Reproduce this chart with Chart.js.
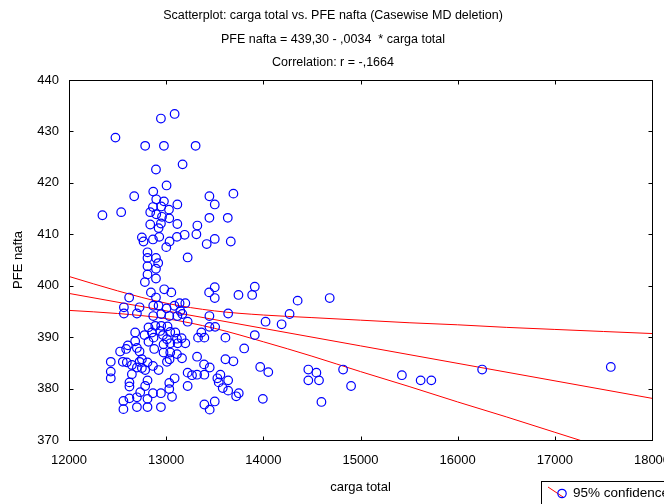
<!DOCTYPE html>
<html>
<head>
<meta charset="utf-8">
<script src="https://cdn.jsdelivr.net/npm/chart.js@4.4.1/dist/chart.umd.min.js"></script>
<style>
  html, body { margin: 0; padding: 0; background: #fff; overflow: hidden; }
  #wrap { width: 664px; height: 504px; overflow: hidden; }
</style>
</head>
<body>
<div id="wrap"><canvas id="myChart" width="760" height="504"></canvas></div>
<script>
// title lines
var titleLines = [
    'Scatterplot: carga total vs. PFE nafta (Casewise MD deletion)',
    'PFE nafta = 439,30 - ,0034  * carga total',
    'Correlation: r = -,1664'
];

// one entry per case: carga total (x) and PFE nafta (y)
var cargaTotal = [13087, 12946, 12478, 12784, 12977, 13303, 13169, 12895, 13004, 12867,
    12671, 12898, 12977, 13115, 12864, 12949, 13029, 12344, 12537, 12836,
    12898, 12957, 13032, 12836, 12946, 13115, 12922, 13321, 12750, 12767,
    12864, 12929, 13035, 13111, 13190, 13311, 13001, 12808, 12808, 12895,
    12918, 13221, 12808, 12895, 12808, 12895, 12781, 12843, 12980, 13053,
    12895, 12619, 12565, 12565, 12726, 12699, 12867, 12922, 13004, 13084,
    13138, 13197, 13146, 12867, 12949, 13032, 13115, 13166, 13221, 13445,
    13692, 13500, 13445, 13634, 13500, 13417, 13665, 13500, 13442, 13500,
    13744, 13912, 13885, 14353, 13445, 13638, 14270, 14023, 14188, 13445,
    13504, 13362, 13328, 13393, 13610, 13912, 13803, 13318, 13390, 13448,
    13610, 13692, 13968, 14051, 13318, 13393, 13558, 13527, 13638, 13541,
    13582, 13638, 13747, 13720, 13995, 13500, 13393, 13448, 12818, 12888,
    12949, 13014, 12681, 12777, 12853, 12939, 12967, 13042, 13094, 13159,
    13111, 13008, 12870, 12681, 12606, 12588, 12526, 12699, 12726, 12818,
    12877, 12973, 13042, 13118, 13197, 13111, 13042, 12973, 13163, 12430,
    12554, 12595, 12647, 12726, 12750, 12808, 12864, 12922, 12784, 12699,
    12750, 13008, 13035, 12430, 12430, 12647, 12622, 12622, 12808, 12784,
    12733, 12699, 12864, 12946, 13032, 13087, 13032, 13060, 13221, 13266,
    13221, 12560, 12622, 12560, 12699, 12808, 12808, 12946, 14683, 14463,
    14546, 14463, 14573, 14821, 14903, 14598, 15426, 15619, 15729, 16252,
    17576];
var pfeNafta = [433.4, 432.5, 428.8, 427.2, 427.2, 427.2, 423.6, 422.6, 419.5, 418.3,
    417.4, 416.8, 416.4, 415.8, 415.3, 415.4, 414.8, 413.7, 414.3, 414.3,
    413.9, 413.4, 413.1, 411.9, 412.1, 412.0, 411.2, 411.7, 409.4, 408.6,
    409.0, 409.5, 408.6, 409.5, 409.9, 410.0, 407.5, 406.5, 405.4, 405.4,
    404.4, 405.5, 403.8, 403.3, 402.2, 401.4, 400.7, 398.7, 399.3, 398.7,
    397.7, 397.7, 395.8, 394.6, 395.8, 394.6, 396.1, 396.1, 395.6, 396.1,
    396.6, 396.6, 395.1, 394.1, 394.5, 394.1, 394.1, 394.5, 393.0, 417.4,
    417.9, 415.8, 413.2, 413.2, 409.1, 408.1, 408.6, 399.7, 398.7, 397.6,
    398.2, 399.8, 398.2, 397.1, 394.1, 394.6, 394.5, 393.0, 392.5, 392.0,
    392.0, 390.9, 389.9, 389.9, 389.9, 390.4, 387.8, 386.2, 384.7, 384.1,
    385.7, 385.3, 384.2, 383.2, 382.7, 382.7, 382.7, 382.0, 381.6, 381.2,
    380.1, 379.6, 379.1, 378.5, 378.0, 377.5, 376.9, 375.9, 391.9, 392.2,
    392.2, 392.1, 390.9, 390.4, 390.9, 391.2, 390.4, 391.0, 390.9, 389.8,
    389.7, 389.6, 389.9, 389.2, 388.4, 387.7, 387.2, 387.9, 387.2, 389.1,
    387.7, 388.6, 388.8, 388.8, 388.8, 386.7, 387.0, 387.0, 385.9, 385.2,
    385.2, 385.1, 384.6, 385.2, 385.7, 385.1, 384.4, 383.6, 383.6, 384.1,
    384.0, 385.2, 385.7, 383.3, 382.0, 382.8, 381.2, 380.4, 381.6, 380.5,
    379.3, 378.3, 379.1, 379.1, 381.1, 382.0, 379.9, 378.4, 383.1, 382.6,
    380.5, 377.6, 378.1, 376.0, 376.4, 378.0, 376.4, 376.4, 397.6, 383.7,
    383.1, 381.6, 381.6, 383.7, 380.5, 377.4, 382.6, 381.6, 381.6, 383.7,
    384.2];

// regression line ends
var fitX = [12000, 18000];
var fitY = [398.5, 378.1];

// 95% confidence band, read along the x axis
var bandX = [12000, 12500, 13000, 13500, 14000, 14500, 15000, 15500, 16000, 16500, 17000, 17500, 18000];
var bandUpper = [401.8, 399.0, 396.6, 395.1, 394.3, 393.8, 393.3, 392.8, 392.4, 391.9, 391.5, 391.1, 390.7];
var bandLower = [395.2, 394.6, 393.6, 391.7, 389.1, 386.3, 383.3, 380.4, 377.4, 374.5, 371.5, 368.5, 365.5];

// tick labels
var xTickValues = [12000, 13000, 14000, 15000, 16000, 17000, 18000];
var yTickValues = [370, 380, 390, 400, 410, 420, 430, 440];

var legendLabel = '95% confidence';

function pairs(xs, ys) {
    return xs.map(function (x, i) { return { x: x, y: ys[i] }; });
}

var FONT = 'Liberation Sans, Arial, sans-serif';

// box round the plot, ticks on the inside, and the legend in the corner
var framePlugin = {
    id: 'framePlugin',
    afterDatasetsDraw: function (chart) {
        var ctx = chart.ctx, a = chart.chartArea;
        var xs = chart.scales.x, ys = chart.scales.y;
        var L = Math.round(a.left) + 0.5, R = Math.round(a.right) + 0.5;
        var T = Math.round(a.top) + 0.5, B = Math.round(a.bottom) + 0.5;
        ctx.save();
        ctx.strokeStyle = '#000';
        ctx.lineWidth = 1;
        ctx.strokeRect(L, T, R - L, B - T);
        ctx.beginPath();
        xs.ticks.forEach(function (t) {
            var px = Math.round(xs.getPixelForValue(t.value)) + 0.5;
            ctx.moveTo(px, B); ctx.lineTo(px, B - 4);
            ctx.moveTo(px, T); ctx.lineTo(px, T + 4);
        });
        ys.ticks.forEach(function (t) {
            var py = Math.round(ys.getPixelForValue(t.value)) + 0.5;
            ctx.moveTo(L, py); ctx.lineTo(L + 4, py);
            ctx.moveTo(R, py); ctx.lineTo(R - 4, py);
        });
        ctx.stroke();

        // legend
        ctx.strokeRect(541.5, 481.5, 150, 30);
        ctx.strokeStyle = '#ff0000';
        ctx.beginPath();
        ctx.moveTo(548, 487); ctx.lineTo(563, 497);
        ctx.stroke();
        ctx.strokeStyle = '#0000ff';
        ctx.lineWidth = 1.2;
        ctx.beginPath();
        ctx.arc(562, 493.5, 4.2, 0, Math.PI * 2);
        ctx.stroke();
        ctx.fillStyle = '#000';
        ctx.font = '13.5px ' + FONT;
        ctx.textBaseline = 'middle';
        ctx.fillText(legendLabel, 573, 493.5);
        ctx.restore();
    }
};

var ctx = document.getElementById('myChart').getContext('2d');
var chart = new Chart(ctx, {
    type: 'scatter',
    data: {
        datasets: [{
            label: 'cases',
            data: pairs(cargaTotal, pfeNafta),
            pointRadius: 4.3,
            pointBorderWidth: 1.2,
            pointBorderColor: '#0000ff',
            pointBackgroundColor: 'rgba(0,0,0,0)',
            order: 0
        }, {
            type: 'line',
            label: 'fit',
            data: pairs(fitX, fitY),
            borderColor: '#ff0000',
            borderWidth: 1,
            pointRadius: 0,
            fill: false,
            order: 1
        }, {
            type: 'line',
            label: legendLabel,
            data: pairs(bandX, bandUpper),
            borderColor: '#ff0000',
            borderWidth: 1,
            pointRadius: 0,
            fill: false,
            cubicInterpolationMode: 'monotone',
            order: 1
        }, {
            type: 'line',
            label: legendLabel,
            data: pairs(bandX, bandLower),
            borderColor: '#ff0000',
            borderWidth: 1,
            pointRadius: 0,
            fill: false,
            cubicInterpolationMode: 'monotone',
            order: 1
        }]
    },
    options: {
        responsive: false,
        animation: false,
        devicePixelRatio: 1,
        // left padding nudges the centred title to the right, as in the original
        layout: { padding: { left: 14, right: 108, top: 0, bottom: 0 } },
        plugins: {
            legend: { display: false },
            tooltip: { enabled: false },
            title: {
                display: true,
                text: titleLines,
                color: '#000',
                font: { family: FONT, size: 12.5, weight: 'normal', lineHeight: '23.5px' },
                padding: { top: 4, bottom: 5.5 }
            }
        },
        scales: {
            x: {
                type: 'linear',
                position: 'bottom',
                min: 12000,
                max: 18000,
                grid: { display: false, drawTicks: false },
                border: { display: false },
                afterBuildTicks: function (s) { s.ticks = xTickValues.map(function (v) { return { value: v }; }); },
                afterFit: function (s) { s.height = 64; },
                ticks: {
                    color: '#000',
                    font: { family: FONT, size: 13 },
                    padding: 13,
                    maxRotation: 0,
                    autoSkip: false,
                    callback: function (v) { return String(v); }
                },
                title: {
                    display: true,
                    text: 'carga total',
                    color: '#000',
                    font: { family: FONT, size: 13 },
                    padding: { top: 0, bottom: 9 }
                }
            },
            y: {
                type: 'linear',
                min: 370,
                max: 440,
                grid: { display: false, drawTicks: false },
                border: { display: false },
                afterBuildTicks: function (s) { s.ticks = yTickValues.map(function (v) { return { value: v }; }); },
                afterFit: function (s) { s.width = 55; },
                ticks: {
                    color: '#000',
                    font: { family: FONT, size: 13 },
                    padding: 10,
                    callback: function (v) { return String(v); }
                },
                title: {
                    display: true,
                    text: 'PFE nafta',
                    color: '#000',
                    font: { family: FONT, size: 13 },
                    padding: { top: -3, bottom: 0 }
                }
            }
        }
    },
    plugins: [framePlugin]
});
</script>
</body>
</html>
